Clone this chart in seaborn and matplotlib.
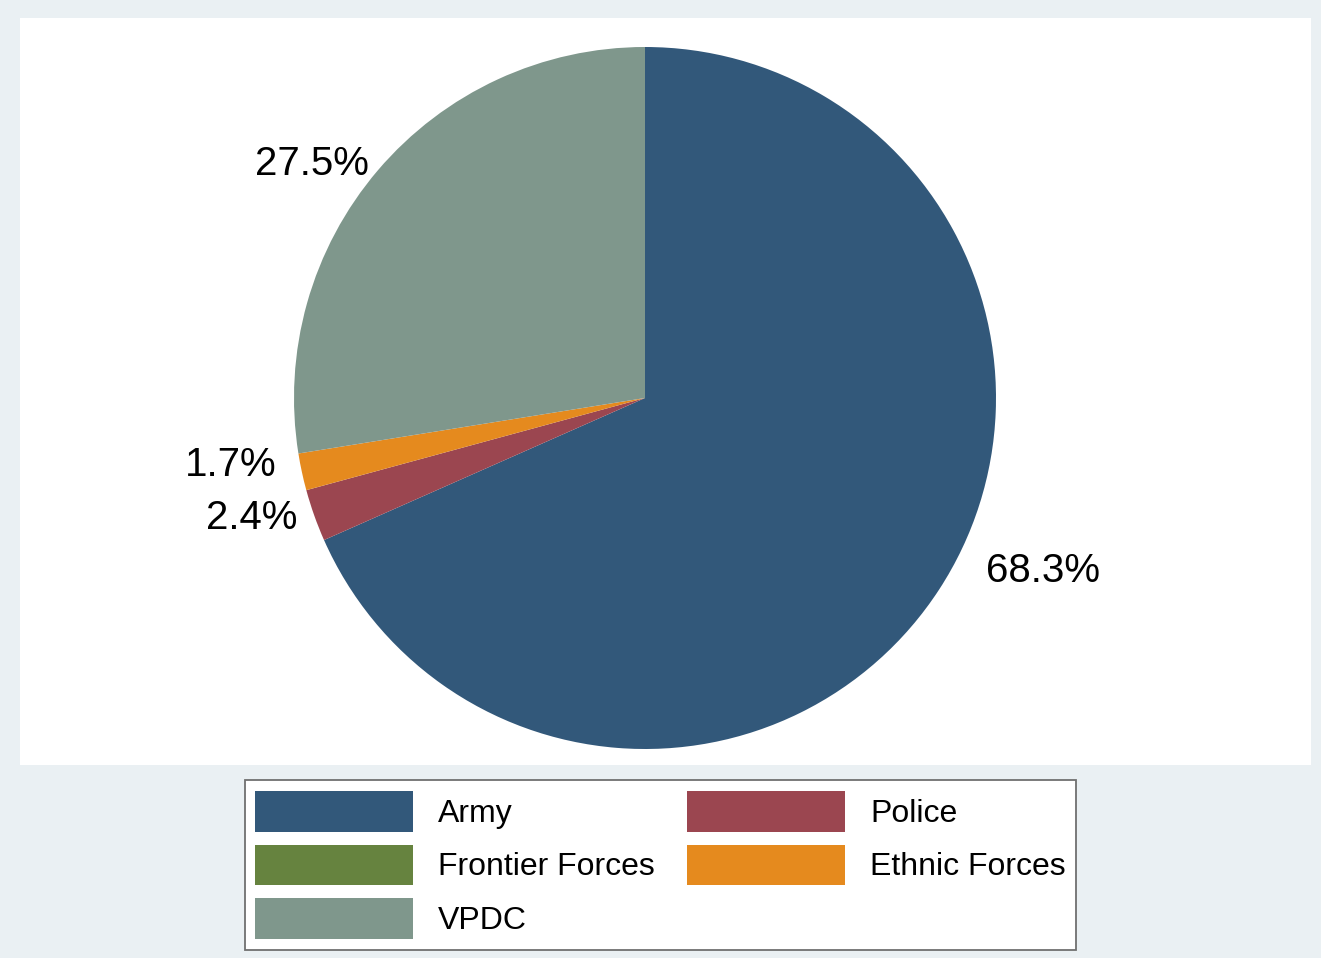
import numpy as np
import matplotlib
matplotlib.use("Agg")
import matplotlib.pyplot as plt
from matplotlib.patches import Rectangle
import seaborn as sns

# ---- data ----
categories = ["Army", "Police", "Frontier Forces", "Ethnic Forces", "VPDC"]
shares = [68.3, 2.4, 0.0, 1.7, 27.5]
label_text = ["68.3%", "2.4%", "", "1.7%", "27.5%"]
colors = ["#32587A", "#9B4650", "#66833F", "#E58A1E", "#7F978C"]
legend_order = ["Army", "Frontier Forces", "VPDC", "Police", "Ethnic Forces"]

# ---- style ----
sns.set_theme(style="white")
plt.rcParams["font.family"] = ["Liberation Sans", "DejaVu Sans"]
plt.rcParams["text.color"] = "black"

W, H = 1321, 958
fig = plt.figure(figsize=(W / 100, H / 100), dpi=100)
fig.patch.set_facecolor("#EAF0F3")

# white plot region
fig.patches.append(Rectangle((20 / W, 1 - 765 / H), (1311 - 20) / W, (765 - 18) / H,
                             transform=fig.transFigure, facecolor="white",
                             edgecolor="none", zorder=-5))

cx, cy, R = 645, 398, 351
ax = fig.add_axes([(cx - R) / W, 1 - (cy + R) / H, 2 * R / W, 2 * R / H])
ax.set_zorder(2)
ax.set_facecolor("none")

wedges, _ = ax.pie(shares, colors=colors, startangle=90, counterclock=False,
                   radius=1.0, wedgeprops=dict(linewidth=0))
ax.set_xlim(-1, 1)
ax.set_ylim(-1, 1)
ax.set_aspect("equal")
ax.axis("off")

# label placement: (angle offset deg, radius factor) per slice
label_adj = [(10.0, 1.231), (-3.1, 1.169), (0, 1.2), (-3.5, 1.194), (4.9, 1.168)]
for w, txt, (da, rf) in zip(wedges, label_text, label_adj):
    if not txt:
        continue
    mid = np.deg2rad((w.theta1 + w.theta2) / 2 + da)
    ax.text(rf * np.cos(mid), rf * np.sin(mid) - 0.012, txt, ha="center", va="center",
            fontsize=29, color="black", clip_on=False)

handles = [wedges[categories.index(c)] for c in legend_order]
leg = fig.legend(handles, legend_order, ncol=2, loc="center",
                 bbox_to_anchor=(660.5 / W, 1 - 865 / H),
                 fontsize=23, frameon=True, fancybox=False, shadow=False,
                 handlelength=4.95, handleheight=1.58, handletextpad=0.78,
                 labelspacing=0.41, columnspacing=1.0, borderpad=0.33,
                 labelcolor="black")
leg.set_zorder(3)
frame = leg.get_frame()
frame.set_edgecolor("#707070")
frame.set_linewidth(1.3)
frame.set_facecolor("white")
frame.set_alpha(1)

fig.savefig("out.png", dpi=100, facecolor=fig.get_facecolor())
